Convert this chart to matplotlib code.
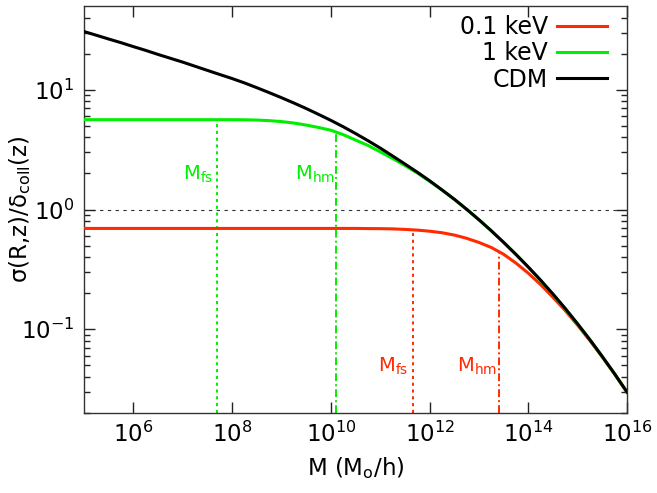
import numpy as np
import matplotlib
matplotlib.use("Agg")
import matplotlib.pyplot as plt
from matplotlib.ticker import FixedLocator, NullLocator, NullFormatter, LogFormatterSciNotation

# ---- data ----
log_mass = [5.0, 5.25, 5.5, 5.75, 6.0, 6.25, 6.5, 6.75, 7.0, 7.25, 7.5, 7.75,
            8.0, 8.25, 8.5, 8.75, 9.0, 9.25, 9.5, 9.75, 10.0, 10.25, 10.5, 10.75,
            11.0, 11.25, 11.5, 11.75, 12.0, 12.25, 12.5, 12.75, 13.0, 13.25, 13.5,
            13.75, 14.0, 14.25, 14.5, 14.75, 15.0, 15.25, 15.5, 15.75, 16.0]
sigma_cdm = [30.6, 28.5, 26.5, 24.7, 22.9, 21.3, 19.7, 18.3, 17.0, 15.7, 14.5, 13.4,
             12.4, 11.4, 10.4, 9.46, 8.58, 7.75, 6.97, 6.23, 5.55, 4.91, 4.31, 3.76,
             3.26, 2.80, 2.40, 2.05, 1.74, 1.46, 1.22, 1.006, 0.822, 0.665, 0.532,
             0.422, 0.331, 0.257, 0.197, 0.149, 0.111, 0.0817, 0.0592, 0.0424, 0.0299]
sigma_1kev = [5.62, 5.62, 5.62, 5.62, 5.62, 5.62, 5.62, 5.62, 5.62, 5.62, 5.62, 5.62,
              5.62, 5.61, 5.58, 5.52, 5.42, 5.27, 5.07, 4.84, 4.59, 4.22, 3.80, 3.43,
              3.03, 2.67, 2.33, 2.02, 1.72, 1.455, 1.216, 1.004, 0.820, 0.664, 0.531,
              0.421, 0.330, 0.256, 0.196, 0.148, 0.110, 0.0815, 0.0590, 0.0423, 0.0298]
sigma_01kev = [0.695, 0.695, 0.695, 0.695, 0.695, 0.695, 0.695, 0.695, 0.695, 0.695,
               0.695, 0.695, 0.695, 0.695, 0.695, 0.695, 0.695, 0.695, 0.695, 0.695,
               0.695, 0.695, 0.695, 0.693, 0.692, 0.689, 0.682, 0.673, 0.659, 0.640,
               0.612, 0.575, 0.531, 0.482, 0.423, 0.357, 0.294, 0.236, 0.185, 0.143,
               0.108, 0.0802, 0.0586, 0.0422, 0.0299]

labels = ["0.1 keV", "1 keV", "CDM"]
colors = ["#ff2a00", "#00ee00", "#000000"]

# characteristic masses: free-streaming and half-mode
m_fs_1kev, m_hm_1kev = 5.0e7, 1.3e10
m_fs_01kev, m_hm_01kev = 4.6e11, 2.6e13
top_fs_1kev, top_hm_1kev = 5.62, 4.4
top_fs_01kev, top_hm_01kev = 0.676, 0.445

x_ticks = [1e6, 1e8, 1e10, 1e12, 1e14, 1e16]
y_ticks = [0.1, 1.0, 10.0]
y_minor = [0.02, 0.03, 0.04, 0.05, 0.06, 0.07, 0.08, 0.09,
           0.2, 0.3, 0.4, 0.5, 0.6, 0.7, 0.8, 0.9,
           2, 3, 4, 5, 6, 7, 8, 9, 20, 30, 40]

xlim = (1e5, 1e16)
ylim = (0.02, 50)

mass = [10.0 ** e for e in log_mass]

fig = plt.figure(figsize=(6.57, 4.93), dpi=100)
ax = fig.add_axes([84/657, 1-413/493, (627-84)/657, (413-6)/493])
ax.set_xscale("log")
ax.set_yscale("log")
ax.set_xlim(*xlim)
ax.set_ylim(*ylim)

lw = 2.2
ax.plot(mass, sigma_01kev, color=colors[0], lw=lw, label=labels[0], zorder=3)
ax.plot(mass, sigma_1kev, color=colors[1], lw=lw, label=labels[1], zorder=3)
ax.plot(mass, sigma_cdm, color=colors[2], lw=lw, label=labels[2], zorder=4)

ax.axhline(1.0, color="#333333", lw=0.8, linestyle=(0, (3, 4)), zorder=1)

dot = (0, (1.6, 1.9))
dashdot = (0, (4, 1.6, 1, 1.6))
vlw = 1.4
ax.vlines(m_fs_1kev, ylim[0], top_fs_1kev, colors=colors[1], lw=vlw, linestyles=[dot], zorder=2)
ax.vlines(m_hm_1kev, ylim[0], top_hm_1kev, colors=colors[1], lw=vlw, linestyles=[dashdot], zorder=2)
ax.vlines(m_fs_01kev, ylim[0], top_fs_01kev, colors=colors[0], lw=vlw, linestyles=[dot], zorder=2)
ax.vlines(m_hm_01kev, ylim[0], top_hm_01kev, colors=colors[0], lw=vlw, linestyles=[dashdot], zorder=2)

tfs = 14
ax.text(10**7.62, 1.95, r"M$_{\rm fs}$", color=colors[1], fontsize=tfs, ha="right", va="center")
ax.text(10**10.08, 1.95, r"M$_{\rm hm}$", color=colors[1], fontsize=tfs, ha="right", va="center")
ax.text(10**11.56, 0.049, r"M$_{\rm fs}$", color=colors[0], fontsize=tfs, ha="right", va="center")
ax.text(10**13.37, 0.049, r"M$_{\rm hm}$", color=colors[0], fontsize=tfs, ha="right", va="center")

# ticks
ax.xaxis.set_major_locator(FixedLocator(x_ticks))
ax.xaxis.set_major_formatter(LogFormatterSciNotation())
ax.xaxis.set_minor_locator(NullLocator())
ax.yaxis.set_major_locator(FixedLocator(y_ticks))
ax.yaxis.set_major_formatter(LogFormatterSciNotation())
ax.yaxis.set_minor_locator(FixedLocator(y_minor))
ax.yaxis.set_minor_formatter(NullFormatter())
ax.tick_params(which="both", direction="in", top=True, right=True, colors="#222222")
ax.tick_params(which="major", length=8, width=1)
ax.tick_params(which="minor", length=4, width=1)
ax.tick_params(axis="x", which="major", labelsize=16.5, pad=6, labelcolor="black")
ax.tick_params(axis="y", which="major", labelsize=16.5, pad=7, labelcolor="black")
for s in ax.spines.values():
    s.set_color("#333333")
    s.set_linewidth(1.0)

ax.set_xlabel(r"M (M$_{\rm o}$/h)", fontsize=16.5, labelpad=6)
ax.set_ylabel(r"σ(R,z)/δ$_{\rm coll}$(z)", fontsize=16.5)
ax.yaxis.set_label_coords(-0.094, 0.5)

leg = ax.legend(loc="upper right", bbox_to_anchor=(607/657, 1-15/493),
                bbox_transform=fig.transFigure, frameon=False, fontsize=17,
                markerfirst=False, handlelength=2.1, handletextpad=0.4,
                labelspacing=0.1, borderpad=0, borderaxespad=0)
for t in leg.get_texts():
    t.set_ha("right")

fig.savefig("out.png", dpi=100)
